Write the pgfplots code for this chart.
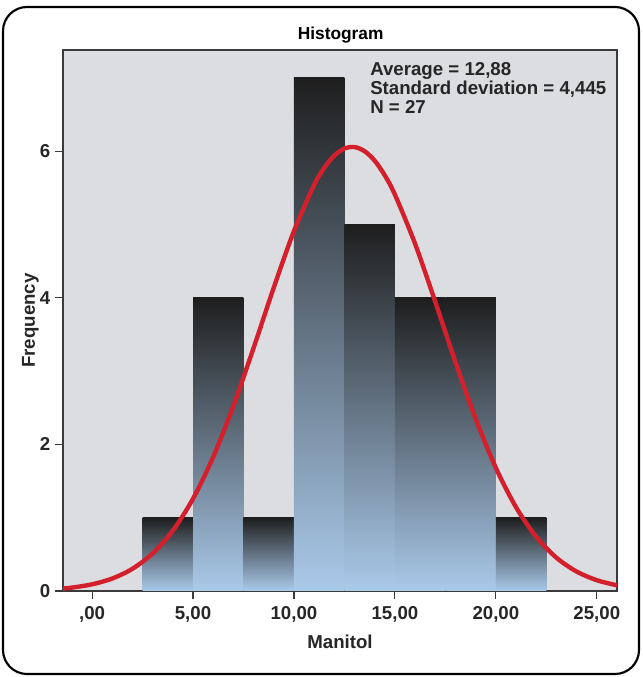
\documentclass[border=0pt]{standalone}
\usepackage{fontspec}
\setmainfont{Liberation Sans}
\usepackage{pgfplots}
\pgfplotsset{compat=1.18}
\definecolor{plotbg}{HTML}{DCDDE0}
\definecolor{bartop}{HTML}{1E1E1E}
\definecolor{barbot}{HTML}{AACAEA}
\definecolor{curvered}{HTML}{D4202C}
\definecolor{axgray}{HTML}{3A3A3A}
\pgfplotsset{histbar/.style={ybar interval, draw=none, top color=bartop, bottom color=barbot}}
\begin{document}
\begin{tikzpicture}
% pixel positions: x from left, y from bottom (677 px tall), 1 px = 0.75pt
\useasboundingbox (0,0) rectangle (481.5pt,507.75pt);
\draw[line width=1.6pt, rounded corners=18pt] (2.25pt,2.25pt) rectangle (479.25pt,502.5pt);
\node[font=\bfseries\fontsize{13}{15}\selectfont] at (255.5pt,481.5pt) {Histogram};
\begin{axis}[
    at={(47.25pt,64.5pt)}, anchor=south west,
    scale only axis,
    width=415.5pt, height=405.75pt,
    xmin=-1.44, xmax=26,
    ymin=0, ymax=7.38,
    axis background/.style={fill=plotbg},
    axis line style={axgray, line width=0.8pt},
    xtick={0,5,10,15,20,25},
    xticklabels={{,00},{5,00},{10,00},{15,00},{20,00},{25,00}},
    ytick={0,2,4,6},
    /pgf/number format/assume math mode=true,
    xtick pos=bottom, ytick pos=left,
    tick align=outside,
    major tick length=6pt,
    tick style={axgray, line width=0.8pt},
    tick label style={font=\bfseries\fontsize{14}{16}\selectfont, text=black!85},
    xticklabel style={yshift=-2pt},
    xlabel={\bfseries Manitol},
    ylabel={\bfseries Frequency},
    label style={font=\bfseries\fontsize{14}{16}\selectfont, text=black!85},
    xlabel style={yshift=-3pt},
    ylabel style={yshift=-6pt},
    clip=true,
]
\addplot[histbar] coordinates {(2.5,1) (5,1)};
\addplot[histbar] coordinates {(5,4) (7.5,4)};
\addplot[histbar] coordinates {(7.5,1) (10,1)};
\addplot[histbar] coordinates {(10,7) (12.5,7)};
\addplot[histbar] coordinates {(12.5,5) (15,5)};
\addplot[histbar] coordinates {(15,4) (17.5,4)};
\addplot[histbar] coordinates {(17.5,4) (20,4)};
\addplot[histbar] coordinates {(20,1) (22.5,1)};
\addplot[curvered, line width=3.3pt, smooth, no marks] coordinates {
    (-1.5,0.0323) (-1,0.0462) (0,0.0910) (1,0.1703) (2,0.3030) (3,0.5123)
    (4,0.8233) (5,1.2589) (6,1.829) (7,2.526) (8,3.316) (9,4.139)
    (10,4.911) (11,5.539) (11.5,5.773) (12,5.940) (12.5,6.036) (13,6.056)
    (13.5,5.999) (14,5.869) (14.5,5.669) (15,5.407)
    (16,4.736) (17,3.943) (18,3.121) (19,2.348) (20,1.679) (21,1.142)
    (22,0.7384) (23,0.4537) (24,0.2652) (25,0.1472) (26,0.0777) (26.5,0.0550)
};
\end{axis}
\node[anchor=north west, align=left, inner sep=0pt,
      font=\bfseries\fontsize{14}{14.25}\selectfont, text=black!85] at (277.5pt,461.25pt)
  {Average = 12,88\\Standard deviation = 4,445\\N = 27};
\end{tikzpicture}
\end{document}
